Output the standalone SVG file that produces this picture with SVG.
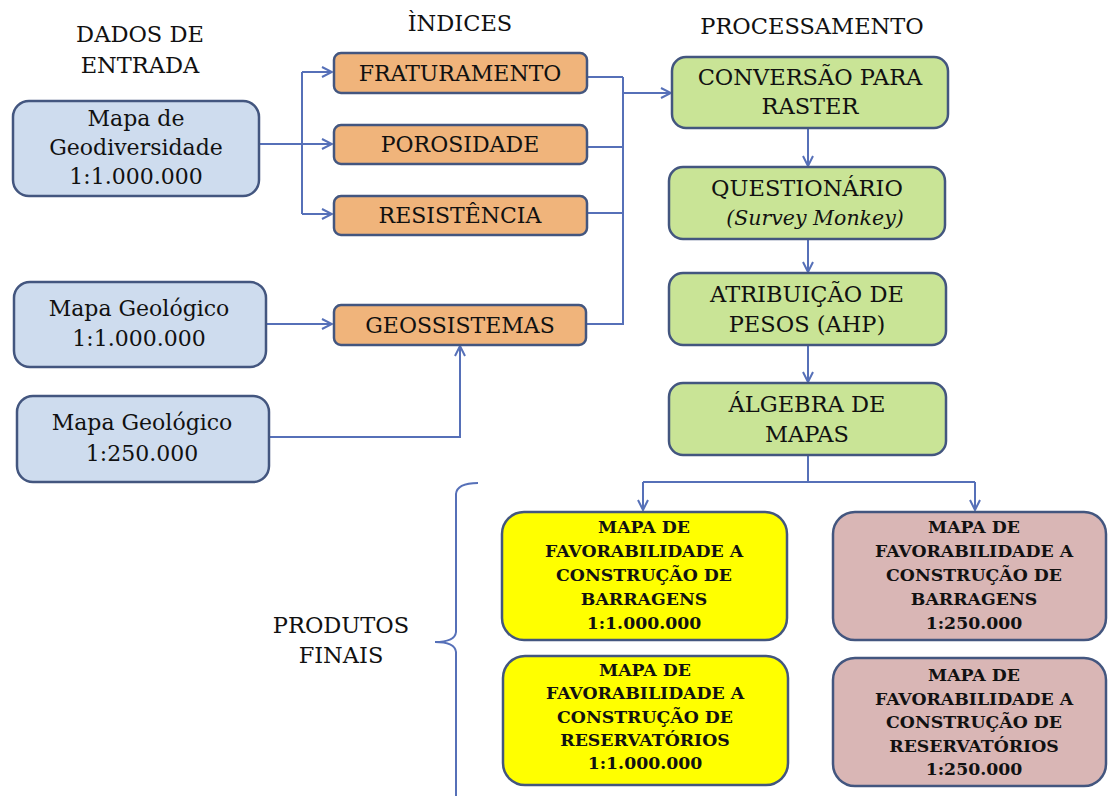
<svg xmlns="http://www.w3.org/2000/svg" width="1108" height="796" viewBox="0 0 1108 796">
<style>
  text { font-family: 'DejaVu Serif', 'Liberation Serif', serif; fill: #111; text-anchor: middle; }
  .hdr { font-size: 22.5px; }
  .box { stroke: #43567f; stroke-width: 2.5; }
  .blue { fill: #cedcee; }
  .orange { fill: #f0b47b; }
  .green { fill: #c9e496; }
  .yellow { fill: #ffff00; }
  .pink { fill: #d9b6b5; }
  .t24 { font-size: 22px; }
  .t25 { font-size: 22.5px; }
  .it { font-size: 20.5px; font-style: italic; }
  .prod { font-size: 17.3px; font-weight: bold; }
  .con { fill: none; stroke: #5670b8; stroke-width: 2; }
  .arr { marker-end: url(#ah); }
</style>
<defs>
  <marker id="ah" viewBox="0 0 12 12" refX="11" refY="6" markerWidth="12" markerHeight="12" markerUnits="userSpaceOnUse" orient="auto">
    <path d="M1,1 L11,6 L1,11" fill="none" stroke="#5670b8" stroke-width="2"/>
  </marker>
</defs>
<rect width="1108" height="796" fill="#ffffff"/>

<g id="headers">
  <text class="hdr" x="140" y="42">DADOS DE</text>
  <text class="hdr" x="140" y="73">ENTRADA</text>
  <text class="hdr" x="460" y="31">ÌNDICES</text>
  <text class="hdr" x="812" y="34">PROCESSAMENTO</text>
  <text class="hdr" x="341" y="633">PRODUTOS</text>
  <text class="hdr" x="341" y="663">FINAIS</text>
</g>

<g id="connectors">
  <path class="con arr" d="M260,144 H332"/>
  <path class="con" d="M302,72 V214"/>
  <path class="con arr" d="M302,72 H332"/>
  <path class="con arr" d="M302,214 H332"/>
  <path class="con" d="M587,77 H623 M587,147 H623 M587,213 H623 M587,324 H623 M623,77 V325"/>
  <path class="con arr" d="M623,93 H671"/>
  <path class="con arr" d="M266,324 H332"/>
  <path class="con arr" d="M269,437 H460 V346"/>
  <path class="con arr" d="M808,128 V166"/>
  <path class="con arr" d="M808,239 V272"/>
  <path class="con arr" d="M808,345 V382"/>
  <path class="con" d="M808,455 V482 M643,482 H975"/>
  <path class="con arr" d="M643,482 V510"/>
  <path class="con arr" d="M975,482 V510"/>
  <path class="con" d="M478,483 Q457,483 456,494 V632 Q455,642 435,642 Q455,642 456,652 V796" stroke-width="2.5"/>
</g>

<g id="geodiversidade">
  <rect class="box blue" x="13" y="101" width="246" height="95" rx="16"/>
  <text class="t24" x="136" y="126">Mapa de</text>
  <text class="t24" x="136" y="155">Geodiversidade</text>
  <text class="t24" x="136" y="184">1:1.000.000</text>
</g>
<g id="geologico1m">
  <rect class="box blue" x="14" y="282" width="252" height="85" rx="16"/>
  <text class="t24" x="139" y="316">Mapa Geológico</text>
  <text class="t24" x="139" y="346">1:1.000.000</text>
</g>
<g id="geologico250k">
  <rect class="box blue" x="17" y="396" width="252" height="86" rx="16"/>
  <text class="t24" x="142" y="430">Mapa Geológico</text>
  <text class="t24" x="142" y="461">1:250.000</text>
</g>

<g id="fraturamento">
  <rect class="box orange" x="334" y="53" width="253" height="40" rx="7"/>
  <text class="t24" x="460" y="81">FRATURAMENTO</text>
</g>
<g id="porosidade">
  <rect class="box orange" x="334" y="125" width="253" height="39" rx="7"/>
  <text class="t24" x="460" y="152">POROSIDADE</text>
</g>
<g id="resistencia">
  <rect class="box orange" x="334" y="196" width="253" height="39" rx="7"/>
  <text class="t24" x="460" y="223">RESISTÊNCIA</text>
</g>
<g id="geossistemas">
  <rect class="box orange" x="334" y="305" width="252" height="40" rx="7"/>
  <text class="t24" x="460" y="333">GEOSSISTEMAS</text>
</g>

<g id="conversao">
  <rect class="box green" x="672" y="57" width="276" height="71" rx="14"/>
  <text class="t25" x="810" y="85">CONVERSÃO PARA</text>
  <text class="t25" x="810" y="114">RASTER</text>
</g>
<g id="questionario">
  <rect class="box green" x="669" y="167" width="276" height="72" rx="14"/>
  <text class="t25" x="807" y="196">QUESTIONÁRIO</text>
  <text class="it" x="815" y="225">(Survey Monkey)</text>
</g>
<g id="atribuicao">
  <rect class="box green" x="669" y="273" width="277" height="72" rx="14"/>
  <text class="t25" x="807" y="302">ATRIBUIÇÃO DE</text>
  <text class="t25" x="807" y="332">PESOS (AHP)</text>
</g>
<g id="algebra">
  <rect class="box green" x="669" y="383" width="277" height="72" rx="14"/>
  <text class="t25" x="807" y="412">ÁLGEBRA DE</text>
  <text class="t25" x="807" y="442">MAPAS</text>
</g>

<g id="barragens1m">
  <rect class="box yellow" x="502" y="512" width="285" height="128" rx="22"/>
  <text class="prod" x="644" y="533">MAPA DE</text>
  <text class="prod" x="644" y="557">FAVORABILIDADE A</text>
  <text class="prod" x="644" y="581">CONSTRUÇÃO DE</text>
  <text class="prod" x="644" y="605">BARRAGENS</text>
  <text class="prod" x="644" y="629">1:1.000.000</text>
</g>
<g id="reservatorios1m">
  <rect class="box yellow" x="503" y="656" width="285" height="129" rx="22"/>
  <text class="prod" x="645" y="676">MAPA DE</text>
  <text class="prod" x="645" y="699">FAVORABILIDADE A</text>
  <text class="prod" x="645" y="723">CONSTRUÇÃO DE</text>
  <text class="prod" x="645" y="746">RESERVATÓRIOS</text>
  <text class="prod" x="645" y="769">1:1.000.000</text>
</g>
<g id="barragens250k">
  <rect class="box pink" x="833" y="512" width="273" height="128" rx="22"/>
  <text class="prod" x="974" y="533">MAPA DE</text>
  <text class="prod" x="974" y="557">FAVORABILIDADE A</text>
  <text class="prod" x="974" y="581">CONSTRUÇÃO DE</text>
  <text class="prod" x="974" y="605">BARRAGENS</text>
  <text class="prod" x="974" y="629">1:250.000</text>
</g>
<g id="reservatorios250k">
  <rect class="box pink" x="833" y="658" width="273" height="128" rx="22"/>
  <text class="prod" x="974" y="681">MAPA DE</text>
  <text class="prod" x="974" y="705">FAVORABILIDADE A</text>
  <text class="prod" x="974" y="728">CONSTRUÇÃO DE</text>
  <text class="prod" x="974" y="752">RESERVATÓRIOS</text>
  <text class="prod" x="974" y="775">1:250.000</text>
</g>
</svg>
